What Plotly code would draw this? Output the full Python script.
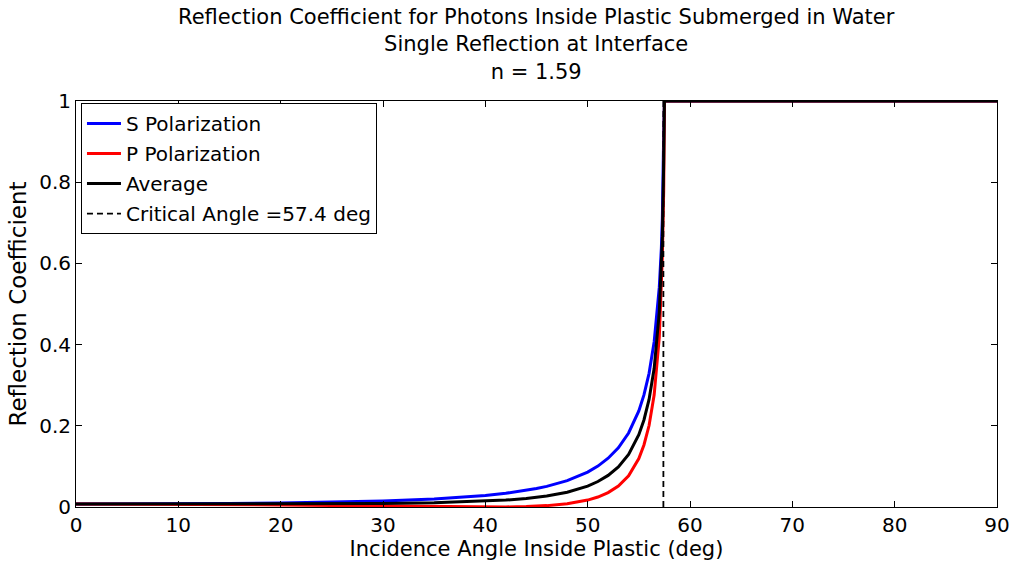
import plotly.graph_objects as go

# Incidence angles (deg) and reflection coefficients
angle = [0, 5, 10, 15, 20, 25, 30, 35, 40, 42, 44, 45, 46, 48, 50, 51, 52, 53,
         54, 55, 55.5, 56, 56.5, 57, 57.2, 57.3, 57.43, 57.5, 60, 70, 80, 90]
r_s = [0.0073, 0.0074, 0.0078, 0.0086, 0.0098, 0.0119, 0.0148, 0.0197, 0.0284,
       0.0338, 0.0410, 0.0455, 0.0508, 0.0649, 0.0860, 0.1008, 0.1201, 0.1459,
       0.1823, 0.2368, 0.2760, 0.3292, 0.4072, 0.5414, 0.6374, 0.7117, 0.92,
       1.0, 1.0, 1.0, 1.0, 1.0]
r_p = [0.0073, 0.0072, 0.0068, 0.0060, 0.0051, 0.0039, 0.0024, 0.0009, 0.0000,
       0.0002, 0.0012, 0.0021, 0.0034, 0.0079, 0.0170, 0.0245, 0.0354, 0.0517,
       0.0771, 0.1195, 0.1527, 0.2006, 0.2762, 0.4186, 0.5290, 0.6188, 0.78,
       1.0, 1.0, 1.0, 1.0, 1.0]
r_avg = [0.0073, 0.0073, 0.0073, 0.0073, 0.0075, 0.0079, 0.0086, 0.0103, 0.0142,
         0.0170, 0.0211, 0.0238, 0.0271, 0.0364, 0.0515, 0.0627, 0.0778, 0.0988,
         0.1297, 0.1782, 0.2144, 0.2649, 0.3417, 0.4800, 0.5832, 0.6653, 0.85,
         1.0, 1.0, 1.0, 1.0, 1.0]
critical_angle = 57.4
y_limits = [0, 1]

x_ticks = [0, 10, 20, 30, 40, 50, 60, 70, 80, 90]
y_ticks = [0, 0.2, 0.4, 0.6, 0.8, 1]
y_tick_text = ["0", "0.2", "0.4", "0.6", "0.8", "1"]

title_lines = ["Reflection Coefficient for Photons Inside Plastic Submerged in Water",
               "Single Reflection at Interface",
               "n = 1.59"]

FONT = "DejaVu Sans, Verdana, sans-serif"

fig = go.Figure()
fig.add_trace(go.Scatter(x=angle, y=r_s, mode="lines", name="S Polarization",
                         line=dict(color="#0000ff", width=3), legendgroup="a"))
fig.add_trace(go.Scatter(x=angle, y=r_p, mode="lines", name="P Polarization",
                         line=dict(color="#ff0000", width=3), legendgroup="b"))
fig.add_trace(go.Scatter(x=angle, y=r_avg, mode="lines", name="Average",
                         line=dict(color="#000000", width=3), legendgroup="c"))
fig.add_trace(go.Scatter(x=[critical_angle, critical_angle], y=y_limits, mode="lines",
                         name="Critical Angle =%.1f deg" % critical_angle,
                         line=dict(color="#000000", width=1.8, dash="6px,4px"),
                         legendgroup="d"))

axis_common = dict(
    showline=True, linecolor="#000000", linewidth=1, mirror="ticks",
    ticks="inside", ticklen=6, tickcolor="#000000", tickwidth=1,
    showgrid=False, zeroline=False, automargin=False,
    tickfont=dict(family=FONT, size=20, color="#000000"),
)

fig.add_annotation(
    text="<br>".join(title_lines), xref="paper", yref="paper",
    x=0.5, y=1, xanchor="center", yanchor="bottom", yshift=15,
    showarrow=False, align="center",
    font=dict(family=FONT, size=21, color="#000000"),
)

fig.update_layout(
    width=1016, height=566,
    margin=dict(l=76, r=19, t=101, b=59),
    paper_bgcolor="white", plot_bgcolor="white",
    xaxis=dict(range=[0, 90], tickvals=x_ticks, **axis_common,
               title=dict(text="Incidence Angle Inside Plastic (deg)", standoff=2,
                          font=dict(family=FONT, size=21, color="#000000"))),
    yaxis=dict(range=y_limits, tickvals=y_ticks, ticktext=y_tick_text, **axis_common,
               title=dict(text="Reflection Coefficient", standoff=6,
                          font=dict(family=FONT, size=23, color="#000000"))),
    legend=dict(x=0.0054, y=0.995, xanchor="left", yanchor="top",
                bordercolor="#000000", borderwidth=1, bgcolor="white",
                font=dict(family=FONT, size=20, color="#000000"),
                tracegroupgap=1, itemwidth=34),
    showlegend=True,
)

fig.write_html("out.html")
